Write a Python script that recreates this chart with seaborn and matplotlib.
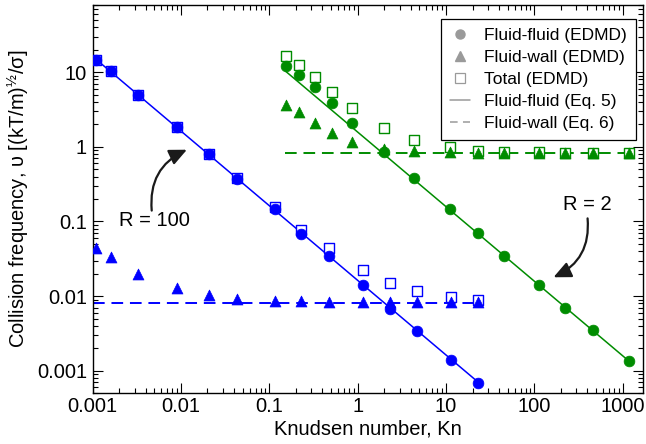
import numpy as np
import pandas as pd
import matplotlib
matplotlib.use("Agg")
import matplotlib.pyplot as plt
import matplotlib.ticker as mticker
from matplotlib.lines import Line2D
import seaborn as sns

# ---------------- data ----------------
# R = 100 (blue)
kn_r100 = [0.0011, 0.0016, 0.0033, 0.009, 0.021, 0.043, 0.115, 0.23, 0.47, 1.15, 2.3, 4.7, 11.5, 23]
ff_r100 = [14.5, 10.4, 4.9, 1.83, 0.80, 0.37, 0.145, 0.069, 0.035, 0.014, 0.0068, 0.0034, 0.00138, 0.00069]
fw_r100 = [0.0435, 0.033, 0.020, 0.0127, 0.0103, 0.0091, 0.0087, 0.0085, 0.0084, 0.0083, 0.0083, 0.0083, 0.0083, 0.0083]
tot_r100 = [14.5, 10.4, 4.9, 1.84, 0.81, 0.38, 0.154, 0.078, 0.0435, 0.0223, 0.0151, 0.0117, 0.0097, 0.0090]
eq5_kn_r100 = [0.0011, 23]
eq5_nu_r100 = [14.8, 0.00071]
eq6_kn_r100 = [0.001, 25]
eq6_nu_r100 = [0.0081, 0.0081]

# R = 2 (green)
kn_r2 = [0.153, 0.22, 0.33, 0.51, 0.87, 2.0, 4.4, 11.2, 23, 45, 113, 225, 465, 1170]
ff_r2 = [12.1, 9.1, 6.4, 3.9, 2.1, 0.84, 0.38, 0.145, 0.071, 0.035, 0.0139, 0.0069, 0.0035, 0.00136]
fw_r2 = [3.6, 2.9, 2.1, 1.52, 1.15, 0.93, 0.89, 0.84, 0.83, 0.82, 0.82, 0.82, 0.82, 0.82]
tot_r2 = [16.2, 12.4, 8.7, 5.5, 3.3, 1.8, 1.24, 0.98, 0.89, 0.86, 0.84, 0.83, 0.83, 0.83]
eq5_kn_r2 = [0.153, 1170]
eq5_nu_r2 = [10.3, 0.00136]
eq6_kn_r2 = [0.15, 1300]
eq6_nu_r2 = [0.82, 0.82]

x_ticks = [0.001, 0.01, 0.1, 1, 10, 100, 1000]
y_ticks = [0.001, 0.01, 0.1, 1, 10]
legend_labels = ["Fluid-fluid (EDMD)", "Fluid-wall (EDMD)", "Total (EDMD)",
                 "Fluid-fluid (Eq. 5)", "Fluid-wall (Eq. 6)"]

# ---------------- style ----------------
sns.set_style("ticks")
plt.rcParams['font.family'] = ['Liberation Sans', 'DejaVu Sans']
plt.rcParams['mathtext.fontset'] = 'custom'
plt.rcParams['mathtext.rm'] = 'Liberation Sans'
plt.rcParams['text.color'] = 'black'
plt.rcParams['axes.labelcolor'] = 'black'
plt.rcParams['xtick.color'] = 'black'
plt.rcParams['ytick.color'] = 'black'
plt.rcParams['axes.edgecolor'] = 'black'

BLUE = "#0000ff"
GREEN = "#008c00"
GRAY = "#9a9a9a"
FS = 14.5

fig = plt.figure(figsize=(6.46, 4.44), dpi=100)
ax = fig.add_axes([0.14319, 0.11419, 0.85217, 0.87523])
ax.set_xscale('log')
ax.set_yscale('log')


def add_series(kn, ff, fw, tot, l5x, l5y, l6x, l6y, color):
    sns.lineplot(x=l5x, y=l5y, ax=ax, color=color, lw=1.1, zorder=2, legend=False)
    sns.lineplot(x=l6x, y=l6y, ax=ax, color=color, lw=1.4, linestyle=(0, (6, 3.5)),
                 zorder=2, legend=False)
    df = pd.DataFrame({"Kn": kn, "ff": ff, "fw": fw, "tot": tot})
    sns.scatterplot(data=df, x="Kn", y="tot", ax=ax, marker="s", s=62,
                    facecolor="white", edgecolor=color, linewidth=1.0, zorder=3, legend=False)
    sns.scatterplot(data=df, x="Kn", y="fw", ax=ax, marker="^", s=62, color=color,
                    edgecolor=color, linewidth=0.5, zorder=4, legend=False)
    sns.scatterplot(data=df, x="Kn", y="ff", ax=ax, marker="o", s=60, color=color,
                    edgecolor=color, linewidth=0.5, zorder=4, legend=False)


add_series(kn_r100, ff_r100, fw_r100, tot_r100, eq5_kn_r100, eq5_nu_r100,
           eq6_kn_r100, eq6_nu_r100, BLUE)
add_series(kn_r2, ff_r2, fw_r2, tot_r2, eq5_kn_r2, eq5_nu_r2,
           eq6_kn_r2, eq6_nu_r2, GREEN)

ax.set_xlim(0.001, 1700)
ax.set_ylim(0.0005, 80)

ax.xaxis.set_major_locator(mticker.FixedLocator(x_ticks))
ax.yaxis.set_major_locator(mticker.FixedLocator(y_ticks))
fmt = mticker.FuncFormatter(lambda v, _: f"{v:g}")
ax.xaxis.set_major_formatter(fmt)
ax.yaxis.set_major_formatter(fmt)
ax.xaxis.set_minor_locator(mticker.LogLocator(base=10, subs=np.arange(2, 10), numticks=20))
ax.yaxis.set_minor_locator(mticker.LogLocator(base=10, subs=np.arange(2, 10), numticks=20))
ax.xaxis.set_minor_formatter(mticker.NullFormatter())
ax.yaxis.set_minor_formatter(mticker.NullFormatter())

ax.tick_params(which='both', direction='in', top=True, right=True, width=0.8)
ax.tick_params(which='major', length=7.5, labelsize=FS)
ax.tick_params(which='minor', length=3.8)
ax.tick_params(axis='x', which='major', pad=3)
ax.tick_params(axis='y', which='major', pad=4)
for sp in ax.spines.values():
    sp.set_linewidth(1.0)
    sp.set_color('black')

ax.set_xlabel("Knudsen number, Kn", fontsize=FS, labelpad=2)
ax.set_ylabel(r"Collision frequency, υ [(kT/m)$^{\mathregular{½}}$/σ]", fontsize=FS, labelpad=4)

# annotations
ax.text(0.00497, 0.104, "R = 100", ha='center', va='center', fontsize=FS)
ax.annotate("", xy=(0.0117, 0.914), xytext=(0.00468, 0.14),
            arrowprops=dict(arrowstyle="-|>,head_length=0.7,head_width=0.32",
                            color="#1a1a1a", lw=1.6, shrinkA=0, shrinkB=0,
                            connectionstyle="arc3,rad=-0.35", mutation_scale=15))
ax.text(401, 0.171, "R = 2", ha='center', va='center', fontsize=FS)
ax.annotate("", xy=(165, 0.0179), xytext=(401, 0.110),
            arrowprops=dict(arrowstyle="-|>,head_length=0.7,head_width=0.32",
                            color="#1a1a1a", lw=1.6, shrinkA=0, shrinkB=0,
                            connectionstyle="arc3,rad=-0.35", mutation_scale=15))

# legend
handles = [
    Line2D([], [], ls='none', marker='o', ms=6.5, mfc=GRAY, mec=GRAY),
    Line2D([], [], ls='none', marker='^', ms=6.5, mfc=GRAY, mec=GRAY),
    Line2D([], [], ls='none', marker='s', ms=6.5, mfc='white', mec=GRAY, mew=0.9),
    Line2D([], [], color=GRAY, lw=1.1),
    Line2D([], [], color=GRAY, lw=1.1, ls=(0, (5, 3.5))),
]
leg = ax.legend(handles, legend_labels, loc='upper right', bbox_to_anchor=(0.9867, 0.9624),
                borderaxespad=0, fontsize=12.5, frameon=True, fancybox=False,
                edgecolor='black', framealpha=1, handlelength=1.2, handletextpad=0.8,
                labelspacing=0.39, borderpad=0.5)
leg.get_frame().set_linewidth(0.9)

fig.savefig("out.png", dpi=100)
